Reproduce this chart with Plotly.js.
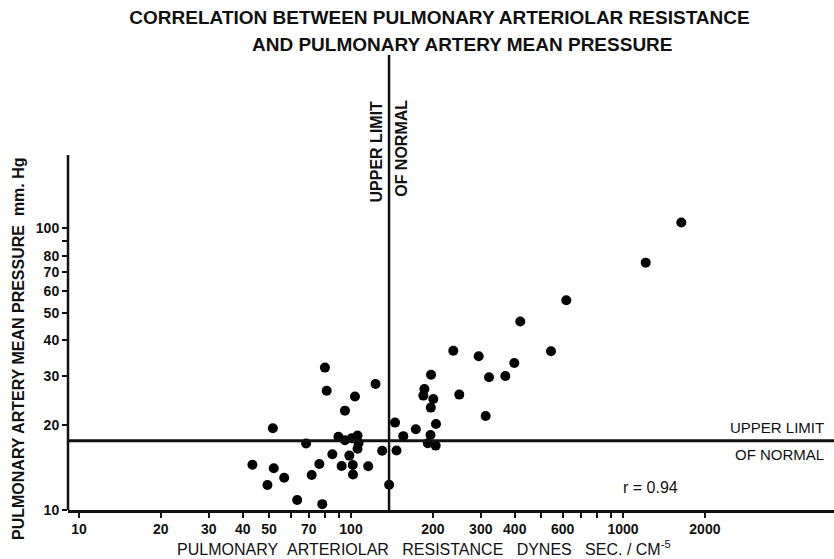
<!DOCTYPE html>
<html>
<head>
<meta charset="utf-8">
<script src="https://cdn.plot.ly/plotly-3.0.1.min.js"></script>
<style>html,body{margin:0;padding:0;background:#fff;}#chart{width:834px;height:559px;}</style>
</head>
<body>
<div id="chart"></div>
<script>
// Pulmonary arteriolar resistance (dynes sec/cm^-5)
const resistance = [43.4, 49.3, 51.6, 52.0, 56.8, 63.4, 68.4, 71.7, 76.5, 78.4,
  80.2, 81.4, 85.4, 89.9, 95.0, 100.6, 105.7, 106.6, 105.7, 95.0,
  103.4, 123.1, 98.6, 92.4, 101.5, 101.7, 115.7, 130.2, 138.1, 145.2,
  147.0, 155.7, 173.1, 186.1, 184.5, 200.7, 196.9, 196.5, 205.3, 196.0,
  191.6, 204.8, 237.7, 294.8, 250.1, 321.7, 312.7, 369.3, 398.5, 543.6,
  419.2, 618.7, 1212, 1638];
// Pulmonary artery mean pressure (mm Hg)
const pressure = [14.47, 12.26, 19.50, 14.06, 13.01, 10.85, 17.22, 13.31, 14.57, 10.49,
  32.03, 26.51, 15.77, 18.18, 17.68, 17.97, 18.37, 17.28, 16.49, 22.53,
  25.29, 28.01, 15.60, 14.33, 14.45, 13.37, 14.29, 16.23, 12.29, 20.43,
  16.26, 18.29, 19.34, 26.89, 25.47, 24.76, 30.20, 23.09, 20.20, 18.46,
  17.25, 16.93, 36.74, 35.13, 25.68, 29.59, 21.56, 29.90, 33.25, 36.59,
  46.66, 55.52, 75.53, 104.8];

const normalResistance = 138;   // upper limit of normal, resistance
const normalPressure = 17.6;    // upper limit of normal, pressure
const rValue = "0.94";

const xTickVals = [10, 20, 30, 40, 50, 70, 100, 200, 300, 400, 600, 1000, 2000];
const xTickText = ["10", "20", "30", "40", "50", "70", "100", "200", "300", "400", "600", "1000", "2000"];
const xMinorVals = [60, 80, 90, 500, 700, 800, 900];
const yTickVals = [10, 20, 30, 40, 50, 60, 70, 80, 100];
const yTickText = ["10", "20", "30", "40", "50", "60", "70", "80", "100"];
const yMinorVals = [90];

const yAxisTop = 182;

const F = "Liberation Sans, Arial, sans-serif";

const trace = {
  type: "scatter", mode: "markers",
  x: resistance, y: pressure,
  marker: {color: "#000", size: 10},
  cliponaxis: false,
  hoverinfo: "x+y"
};

const tickStyle = {ticks: "outside", ticklen: 5, tickwidth: 2, tickcolor: "#111"};

const layout = {
  width: 834, height: 559,
  margin: {l: 68, r: 0, t: 55, b: 49},
  paper_bgcolor: "#fff", plot_bgcolor: "#fff",
  showlegend: false,
  title: {
    text: "CORRELATION BETWEEN PULMONARY ARTERIOLAR RESISTANCE",
    font: {family: F, size: 19, color: "#111", weight: "bold"},
    xref: "container", yref: "container",
    x: 0.527, xanchor: "center", y: 0.969, yanchor: "middle"
  },
  xaxis: Object.assign({
    type: "log", range: [0.9596, 3.7757],
    showgrid: false, zeroline: false,
    showline: true, linecolor: "#111", linewidth: 2.5,
    tickmode: "array", tickvals: xTickVals, ticktext: xTickText,
    tickfont: {family: F, size: 14, color: "#111", weight: "bold"},
    minor: Object.assign({tickmode: "array", tickvals: xMinorVals, showgrid: false}, tickStyle)
  }, tickStyle),
  yaxis: Object.assign({
    type: "log", range: [1, 2.6152],
    showgrid: false, zeroline: false, showline: false,
    tickmode: "array", tickvals: yTickVals, ticktext: yTickText,
    tickfont: {family: F, size: 14, color: "#111", weight: "bold"},
    minor: Object.assign({tickmode: "array", tickvals: yMinorVals, showgrid: false}, tickStyle)
  }, tickStyle),
  shapes: [
    {type: "line", xref: "x domain", x0: 0, x1: 0, yref: "y", y0: 10, y1: yAxisTop,
     line: {color: "#111", width: 2.5}},
    {type: "line", xref: "x", x0: normalResistance, x1: normalResistance, yref: "y", y0: 10, y1: 412,
     line: {color: "#111", width: 2.5}},
    {type: "line", xref: "paper", x0: 0, x1: 1, yref: "y", y0: normalPressure, y1: normalPressure,
     line: {color: "#111", width: 3}}
  ],
  annotations: [
    {text: "AND PULMONARY ARTERY MEAN PRESSURE",
     xref: "paper", yref: "paper", x: 0.515, y: 1.0835 - 0.0595, xanchor: "center", yanchor: "middle",
     showarrow: false, font: {family: F, size: 19, color: "#111", weight: "bold"}},
    {text: "PULMONARY ARTERY MEAN PRESSURE&nbsp;&nbsp;mm. Hg", textangle: -90,
     xref: "paper", yref: "paper", x: -0.0653, y: 0.356, xanchor: "center", yanchor: "middle",
     showarrow: false, font: {family: F, size: 16, color: "#111", weight: "bold"}},
    {text: "PULMONARY&nbsp;&nbsp;ARTERIOLAR&nbsp;&nbsp;&nbsp;RESISTANCE&nbsp;&nbsp;&nbsp;DYNES&nbsp;&nbsp;&nbsp;SEC. / CM<sup>-5</sup>",
     xref: "paper", yref: "paper", x: 0.4648, y: -0.0835, xanchor: "center", yanchor: "middle",
     showarrow: false, font: {family: F, size: 16, color: "#111"}},
    {text: "UPPER LIMIT", textangle: -90,
     xref: "x", x: Math.log10(normalResistance), xshift: -2, xanchor: "right",
     yref: "paper", y: 0.787, yanchor: "middle",
     showarrow: false, font: {family: F, size: 16, color: "#111", weight: "bold"}},
    {text: "OF NORMAL", textangle: -90,
     xref: "x", x: Math.log10(normalResistance), xshift: 2, xanchor: "left",
     yref: "paper", y: 0.795, yanchor: "middle",
     showarrow: false, font: {family: F, size: 16, color: "#111", weight: "bold"}},
    {text: "UPPER LIMIT", xref: "paper", x: 0.9896, xanchor: "right",
     yref: "paper", y: 0.1824, yanchor: "middle",
     showarrow: false, font: {family: F, size: 15, color: "#111"}},
    {text: "OF NORMAL", xref: "paper", x: 0.9896, xanchor: "right",
     yref: "paper", y: 0.123, yanchor: "middle",
     showarrow: false, font: {family: F, size: 15, color: "#111"}},
    {text: "r = " + rValue, xref: "paper", x: 0.761, xanchor: "center",
     yref: "paper", y: 0.0505, yanchor: "middle",
     showarrow: false, font: {family: F, size: 16, color: "#111"}}
  ]
};

Plotly.newPlot("chart", [trace], layout, {displayModeBar: false, staticPlot: true});
</script>
</body>
</html>
